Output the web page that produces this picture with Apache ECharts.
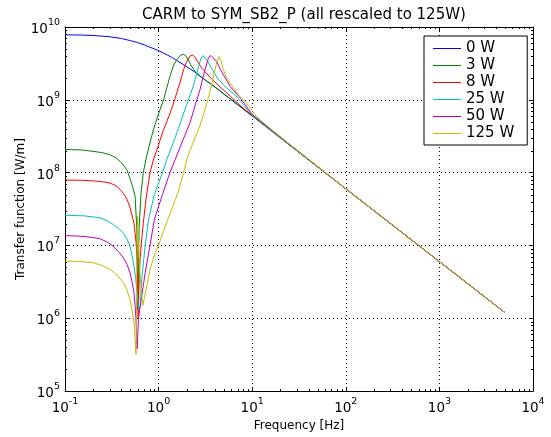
<!DOCTYPE html>
<html><head><meta charset="utf-8">
<script src="https://cdn.jsdelivr.net/npm/echarts@6/dist/echarts.min.js"></script>
<style>html,body{margin:0;padding:0;background:#fff}#c{width:551px;height:437px}</style>
</head><body><div id="c"></div>
<script>
const titleText = 'CARM to SYM_SB2_P (all rescaled to 125W)';
const xName = 'Frequency [Hz]';
const yName = 'Transfer function [W/m]';
const seriesNames = ['0 W', '3 W', '8 W', '25 W', '50 W', '125 W'];
const seriesColors = ['#0000ff', '#008000', '#ff0000', '#00bfbf', '#bf00bf', '#bfbf00'];
const X_MIN = 0.1, X_MAX = 1e4, Y_MIN = 1e5, Y_MAX = 1e10;

const freq0W = [0.1, 0.15, 0.2, 0.3, 0.4, 0.5, 0.6, 0.7, 0.8, 0.9, 1.0, 1.12, 1.25, 1.4, 1.6, 1.8, 2.0, 2.5, 3.2, 4.0, 5.0, 6.3, 8.0, 10, 100, 1000, 5000];
const val0W = [7.8e9, 7.75e9, 7.65e9, 7.35e9, 6.95e9, 6.5e9, 6.1e9, 5.7e9, 5.3e9, 5.0e9, 4.75e9, 4.4e9, 4.1e9, 3.8e9, 3.4e9, 3.1e9, 2.85e9, 2.35e9, 1.85e9, 1.5e9, 1.2e9, 9.5e8, 7.5e8, 6.0e8, 6.0e7, 6.0e6, 1.2e6];

const freq3W = [0.1, 0.15, 0.2, 0.25, 0.3, 0.35, 0.387, 0.42, 0.457, 0.5, 0.53, 0.561, 0.584, 0.596, 0.603, 0.61, 0.62, 0.65, 0.686, 0.75, 0.88, 1.03, 1.13, 1.23, 1.33, 1.45, 1.57, 1.72, 1.84, 1.95, 2.08, 2.2, 2.35, 2.55, 2.8, 3.5, 5, 7, 10, 100, 1000, 5000];
const val3W = [2.08e8, 2.05e8, 1.96e8, 1.88e8, 1.77e8, 1.6e8, 1.43e8, 1.27e8, 1.1e8, 8.0e7, 6.3e7, 4.7e7, 1.8e7, 6e6, 1.3e6, 7e6, 1.8e7, 5.3e7, 1.0e8, 1.75e8, 3.9e8, 7.2e8, 1.0e9, 1.5e9, 2.15e9, 3.0e9, 3.6e9, 4.1e9, 4.23e9, 4.05e9, 3.53e9, 3.05e9, 2.65e9, 2.3e9, 2.08e9, 1.7e9, 1.2e9, 8.6e8, 6.0e8, 6.0e7, 6.0e6, 1.2e6];

const freq8W = [0.1, 0.15, 0.2, 0.25, 0.303, 0.35, 0.387, 0.42, 0.46, 0.496, 0.546, 0.575, 0.592, 0.605, 0.62, 0.635, 0.65, 0.686, 0.72, 0.75, 0.81, 0.88, 0.96, 1.13, 1.33, 1.5, 1.7, 1.85, 2.0, 2.15, 2.3, 2.42, 2.55, 2.8, 3.13, 3.6, 4.2, 5.83, 8, 10, 100, 1000, 5000];
const val8W = [7.9e7, 7.85e7, 7.7e7, 7.5e7, 7.2e7, 6.6e7, 5.9e7, 5.2e7, 4.3e7, 3.3e7, 2.0e7, 1.1e7, 5e6, 1.0e6, 3.5e6, 6.5e6, 1.0e7, 2.0e7, 3.5e7, 5.3e7, 1.0e8, 1.5e8, 2.07e8, 3.9e8, 6.6e8, 1.05e9, 1.75e9, 2.6e9, 3.35e9, 3.95e9, 4.13e9, 3.95e9, 3.53e9, 2.9e9, 2.44e9, 2.0e9, 1.65e9, 1.12e9, 7.7e8, 6.1e8, 6.0e7, 6.0e6, 1.2e6];

const freq25W = [0.1, 0.16, 0.236, 0.28, 0.328, 0.37, 0.42, 0.46, 0.495, 0.52, 0.546, 0.57, 0.59, 0.615, 0.635, 0.66, 0.718, 0.78, 0.9, 1.1, 1.22, 1.5, 1.75, 2.08, 2.35, 2.52, 2.67, 2.85, 2.97, 3.1, 3.29, 3.55, 3.85, 4.3, 4.93, 6.86, 10, 100, 1000, 5000];
const val25W = [2.6e7, 2.55e7, 2.4e7, 2.2e7, 1.94e7, 1.72e7, 1.49e7, 1.22e7, 9.8e6, 7.3e6, 5.2e6, 3.5e6, 2.2e6, 1.3e6, 1.5e6, 3.4e6, 1.0e7, 2.27e7, 5.0e7, 1.0e8, 1.5e8, 3.0e8, 5.3e8, 1.0e9, 1.55e9, 2.15e9, 2.86e9, 3.75e9, 4.05e9, 3.9e9, 3.53e9, 2.95e9, 2.44e9, 1.95e9, 1.6e9, 1.1e9, 6.1e8, 6.0e7, 6.0e6, 1.2e6];

const freq50W = [0.1, 0.16, 0.236, 0.28, 0.328, 0.37, 0.42, 0.46, 0.495, 0.52, 0.546, 0.56, 0.575, 0.59, 0.61, 0.66, 0.718, 0.81, 0.9, 1.1, 1.32, 1.5, 1.8, 2.16, 2.56, 2.78, 2.95, 3.13, 3.4, 3.56, 3.75, 4.2, 4.55, 4.93, 5.83, 7.5, 10, 100, 1000, 5000];
const val50W = [1.37e7, 1.33e7, 1.24e7, 1.12e7, 9.8e6, 8.3e6, 6.8e6, 5.5e6, 4.2e6, 3.2e6, 2.25e6, 1.55e6, 9e5, 3.8e5, 1.0e6, 2.0e6, 4.2e6, 1.0e7, 2.27e7, 5.0e7, 1.0e8, 1.5e8, 2.7e8, 4.8e8, 1.0e9, 1.4e9, 1.95e9, 2.6e9, 3.7e9, 4.05e9, 3.9e9, 3.3e9, 2.65e9, 2.2e9, 1.52e9, 1.05e9, 6.3e8, 6.0e7, 6.0e6, 1.2e6];

const freq125W = [0.1, 0.15, 0.2, 0.25, 0.303, 0.36, 0.42, 0.46, 0.495, 0.52, 0.546, 0.562, 0.574, 0.585, 0.595, 0.605, 0.625, 0.65, 0.678, 0.71, 0.75, 0.81, 0.92, 1.0, 1.13, 1.39, 1.6, 1.85, 2.0, 2.16, 2.45, 2.78, 3.05, 3.35, 3.56, 3.8, 4.0, 4.25, 4.43, 4.65, 4.93, 5.3, 5.83, 7.14, 8.7, 11.2, 20, 100, 1000, 5000];
const val125W = [6.1e6, 6.0e6, 5.8e6, 5.3e6, 4.7e6, 3.9e6, 3.1e6, 2.45e6, 1.8e6, 1.3e6, 8.7e5, 5.0e5, 3.2e5, 4e6, 2.5e7, 1.2e7, 5e6, 2.5e6, 1.5e6, 2.0e6, 2.8e6, 4.7e6, 7.9e6, 1.0e7, 1.6e7, 3.2e7, 5.2e7, 1.0e8, 1.5e8, 2.0e8, 3.0e8, 4.5e8, 6.6e8, 1.0e9, 1.35e9, 1.9e9, 2.6e9, 3.5e9, 3.92e9, 3.4e9, 2.58e9, 2.05e9, 1.69e9, 1.17e9, 9.0e8, 5.8e8, 3.1e8, 6.0e7, 6.0e6, 1.2e6];

const allFreqs = [freq0W, freq3W, freq8W, freq25W, freq50W, freq125W];
const allVals = [val0W, val3W, val8W, val25W, val50W, val125W];

// minor tick positions (2..9 x 10^k)
const xMinorTicks = [];
for (let k = -1; k <= 3; k++) for (let m = 2; m <= 9; m++) xMinorTicks.push(m * Math.pow(10, k));
const yMinorTicks = [];
for (let k = 5; k <= 9; k++) for (let m = 2; m <= 9; m++) yMinorTicks.push(m * Math.pow(10, k));

const FONT = 'DejaVu Sans';
const chart = echarts.init(document.getElementById('c'), null, {renderer: 'canvas'});

function powLabel(v) {
  const e = Math.round(Math.log10(v));
  return '{b|10}{s|' + e + '}';
}
const labelRich = {
  b: {fontSize: 13.5, fontFamily: FONT, color: '#000', lineHeight: 19, verticalAlign: 'bottom'},
  s: {fontSize: 9.5, fontFamily: FONT, color: '#000', lineHeight: 10, verticalAlign: 'top'}
};

const lineSeries = seriesNames.map((name, i) => ({
  name: name,
  type: 'line',
  xAxisIndex: 0, yAxisIndex: 0,
  showSymbol: false, symbol: 'none',
  smooth: false,
  color: seriesColors[i],
  lineStyle: {color: seriesColors[i], width: 1},
  data: allFreqs[i].map((f, j) => [f, allVals[i][j]]),
  z: 3
}));

const minorX = {
  type: 'custom', silent: true, clip: false, z: 6,
  xAxisIndex: 0, yAxisIndex: 0,
  data: xMinorTicks.map(v => [v, Y_MIN]),
  renderItem: (params, api) => {
    const v = api.value(0);
    const a = api.coord([v, Y_MIN]);
    const b = api.coord([v, Y_MAX]);
    const x = Math.round(a[0]) + 0.5;
    return {type: 'group', children: [
      {type: 'line', shape: {x1: x, y1: a[1], x2: x, y2: a[1] - 2}, style: {stroke: '#000', lineWidth: 1}},
      {type: 'line', shape: {x1: x, y1: b[1], x2: x, y2: b[1] + 2}, style: {stroke: '#000', lineWidth: 1}}
    ]};
  }
};
const minorY = {
  type: 'custom', silent: true, clip: false, z: 6,
  xAxisIndex: 0, yAxisIndex: 0,
  data: yMinorTicks.map(v => [X_MIN, v]),
  renderItem: (params, api) => {
    const v = api.value(1);
    const a = api.coord([X_MIN, v]);
    const b = api.coord([X_MAX, v]);
    const y = Math.round(a[1]) + 0.5;
    return {type: 'group', children: [
      {type: 'line', shape: {x1: a[0], y1: y, x2: a[0] + 2, y2: y}, style: {stroke: '#000', lineWidth: 1}},
      {type: 'line', shape: {x1: b[0], y1: y, x2: b[0] - 2, y2: y}, style: {stroke: '#000', lineWidth: 1}}
    ]};
  }
};

const axisLineStyle = {show: true, lineStyle: {color: '#000', width: 1}};
const majorTick = {show: true, inside: true, length: 4, lineStyle: {color: '#000', width: 1}};

chart.setOption({
  animation: false,
  backgroundColor: '#fff',
  textStyle: {fontFamily: FONT},
  title: {
    text: titleText, left: 299, top: 3, textAlign: 'center',
    textStyle: {fontFamily: FONT, fontSize: 15, fontWeight: 'normal', color: '#000'}
  },
  legend: {
    data: seriesNames,
    orient: 'vertical', left: 424, top: 36,
    icon: 'rect', itemWidth: 28, itemHeight: 1, itemGap: 0,
    padding: [4, 13, 3, 9],
    backgroundColor: '#fff', borderColor: '#000', borderWidth: 1, borderRadius: 0,
    textStyle: {fontFamily: FONT, fontSize: 15, color: '#000', lineHeight: 17}
  },
  grid: {left: 65, right: 18, top: 27, bottom: 45, containLabel: false},
  xAxis: [
    {
      type: 'log', logBase: 10, min: X_MIN, max: X_MAX, position: 'bottom',
      name: xName, nameLocation: 'middle', nameGap: 25,
      nameTextStyle: {fontFamily: FONT, fontSize: 12, color: '#000'},
      axisLine: axisLineStyle, axisTick: majorTick, minorTick: {show: false},
      axisLabel: {formatter: powLabel, rich: labelRich, margin: 5},
      splitLine: {show: true, lineStyle: {color: '#000', type: [1, 3], width: 1}}
    },
    {
      type: 'log', logBase: 10, min: X_MIN, max: X_MAX, position: 'top',
      axisLine: axisLineStyle, axisTick: majorTick,
      axisLabel: {show: false}, splitLine: {show: false}
    }
  ],
  yAxis: [
    {
      type: 'log', logBase: 10, min: Y_MIN, max: Y_MAX, position: 'left',
      name: yName, nameLocation: 'middle', nameGap: 38, nameMoveOverlap: false,
      nameTextStyle: {fontFamily: FONT, fontSize: 12, color: '#000'},
      axisLine: axisLineStyle, axisTick: majorTick, minorTick: {show: false},
      axisLabel: {formatter: powLabel, rich: labelRich, margin: 5},
      splitLine: {show: true, lineStyle: {color: '#000', type: [1, 3], width: 1}}
    },
    {
      type: 'log', logBase: 10, min: Y_MIN, max: Y_MAX, position: 'right',
      axisLine: axisLineStyle, axisTick: majorTick,
      axisLabel: {show: false}, splitLine: {show: false}
    }
  ],
  series: lineSeries.concat([minorX, minorY])
});
</script></body></html>
